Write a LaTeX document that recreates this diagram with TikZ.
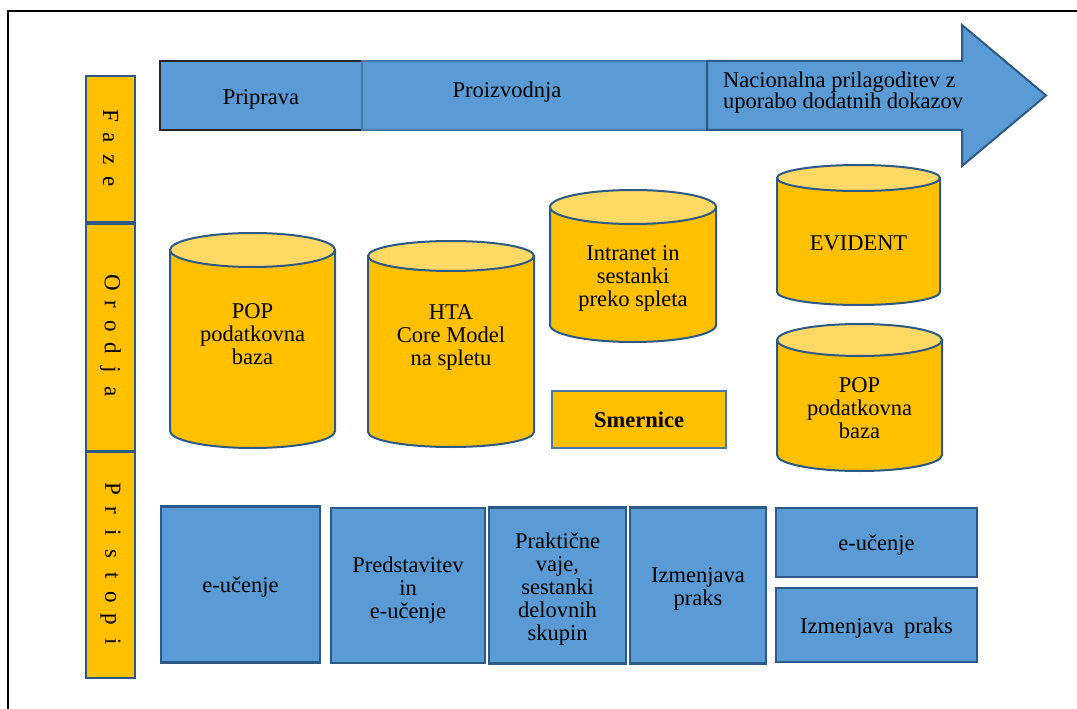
\documentclass[tikz,border=0pt]{standalone}
\usepackage{fontspec}
\setmainfont{Liberation Serif}
\definecolor{fillblue}{HTML}{5B9BD5}
\definecolor{edgeblue}{HTML}{2C5985}
\definecolor{softedge}{HTML}{4A78A6}
\definecolor{gold}{HTML}{FFC000}
\definecolor{goldtop}{HTML}{FFD966}

% one spaced letter of the vertical row labels
\newcommand\rowletter[1]{\makebox[21.8bp]{#1}}

% cylinder: name, left x, right x, top centre y, bottom centre y, cap radius, text y, text
\newcommand\drawcyl[8]{%
  \pgfmathsetmacro\cylrx{(#3-#2)/2}%
  \pgfmathsetmacro\cylxc{(#2+#3)/2}%
  \filldraw[cylbody] (#2,#4) -- (#2,#5)
    arc[start angle=180,end angle=360,x radius=\cylrx bp,y radius=#6bp]
    -- (#3,#4) -- cycle;
  \filldraw[cyltop] (\cylxc,#4) ellipse[x radius=\cylrx bp,y radius=#6bp];
  \node[txt] (#1) at (\cylxc,#7) {#8};
}

\tikzset{
  txt/.style={font=\fontsize{22.5bp}{23bp}\selectfont, align=center, inner sep=0pt, text=black},
  bluebox/.style={draw=edgeblue, line width=2.2bp, fill=fillblue, inner sep=0pt},
  rowbox/.style={draw=edgeblue, line width=2bp, fill=gold, inner sep=0pt, rotate=-90,
    font=\fontsize{23bp}{24bp}\selectfont},
  cylbody/.style={draw=edgeblue, line width=2bp, fill=gold},
  cyltop/.style={draw=edgeblue, line width=2bp, fill=goldtop},
  goldbox/.style={draw=softedge, line width=1.8bp, fill=gold, inner sep=0pt,
    font=\bfseries\fontsize{22.5bp}{23bp}\selectfont},
}

\begin{document}
\begin{tikzpicture}[x=1bp,y=-1bp]
\useasboundingbox (0,0) rectangle (1077,709);
\fill[white] (0,0) rectangle (1077,709);

% outer frame (its right and bottom sides lie outside the page)
\begin{scope}
  \clip (0,0) rectangle (1077,709);
  \draw[line width=2bp, black] (8,11) rectangle (1100,730);
\end{scope}

% row labels
\node[rowbox, minimum width=146bp, minimum height=49bp] (faze) at (110.5,149)
  {\rowletter{F}\rowletter{a}\rowletter{z}\rowletter{e}};
\node[rowbox, minimum width=227bp, minimum height=49bp] (orodja) at (110.5,337.5)
  {\rowletter{O}\rowletter{r}\rowletter{o}\rowletter{d}\rowletter{j}\rowletter{a}};
\node[rowbox, minimum width=226bp, minimum height=49bp] (pristopi) at (110.5,565)
  {\rowletter{P}\rowletter{r}\rowletter{i}\rowletter{s}\rowletter{t}\rowletter{o}\rowletter{p}\rowletter{i}};

% phases: two blocks and the final arrow
\node[draw=black!85, line width=1.6bp, fill=fillblue, minimum width=202bp, minimum height=69bp,
  inner sep=0pt] (priprava) at (261,95.5) {};
\node[txt] (tpriprava) at (261,99) {Priprava};
\node[draw=softedge, line width=1.6bp, fill=fillblue, minimum width=345bp, minimum height=69bp,
  inner sep=0pt] (proizvodnja) at (534.5,95.5) {};
\node[txt] (tproizvodnja) at (507,92) {Proizvodnja};
\filldraw[draw=edgeblue, line width=2bp, fill=fillblue, line join=miter]
  (707,61) -- (962,61) -- (962,25) -- (1046,95.5) -- (962,166) -- (962,130) -- (707,130) -- cycle;
\node[txt, anchor=west, align=left, font=\fontsize{22.5bp}{21bp}\selectfont] (nacionalna) at (723,93)
  {Nacionalna prilagoditev z\\uporabo dodatnih dokazov};

% tools
\drawcyl{pop}{170}{335}{250}{431}{17}{334}{POP\\podatkovna\\baza}
\drawcyl{hta}{368}{534}{256}{432}{15}{337}{HTA\\Core Model\\na spletu}
\drawcyl{intranet}{550}{716}{207}{325}{17}{278}{Intranet in\\sestanki\\preko spleta}
\drawcyl{evident}{777}{940}{178}{292}{13}{243}{EVIDENT}
\drawcyl{popb}{777}{942}{340}{455}{16}{408}{POP\\podatkovna\\baza}
\node[goldbox, minimum width=174bp, minimum height=57bp] (smernice) at (639,419.5) {Smernice};

% approaches
\node[bluebox, minimum width=159bp, minimum height=156bp] (eu1) at (240.5,584.5) {};
\node[txt] (teu1) at (240.5,587) {e-učenje};
\node[bluebox, minimum width=154bp, minimum height=155bp] (pred) at (408,585.5) {};
\node[txt] (tpred) at (408,590) {Predstavitev\\in\\e-učenje};
\node[bluebox, minimum width=137bp, minimum height=156bp] (prak) at (557.5,585.5) {};
\node[txt] (tprak) at (557.5,589) {Praktične\\vaje,\\sestanki\\delovnih\\skupin};
\node[bluebox, minimum width=136bp, minimum height=156bp] (izm1) at (698,585.5) {};
\node[txt] (tizm1) at (698,589) {Izmenjava\\praks};
\node[bluebox, minimum width=201bp, minimum height=69bp] (eu2) at (876.5,542.5) {};
\node[txt] (teu2) at (876.5,545.5) {e-učenje};
\node[bluebox, minimum width=201bp, minimum height=74bp] (izm2) at (876.5,625) {};
\node[txt] (tizm2) at (876.5,628) {Izmenjava\hspace{0.45em}praks};
\end{tikzpicture}
\end{document}
